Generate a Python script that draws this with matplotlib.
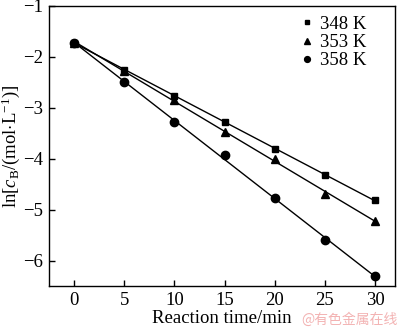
import numpy as np
import matplotlib
matplotlib.use("Agg")
import matplotlib.pyplot as plt

plt.rcParams['font.family'] = ['Liberation Serif', 'DejaVu Serif']
plt.rcParams['mathtext.fontset'] = 'custom'
plt.rcParams['mathtext.rm'] = 'Liberation Serif'
plt.rcParams['mathtext.it'] = 'Liberation Serif:italic'

time_min = [0, 5, 10, 15, 20, 25, 30]
ln_c_348 = [-1.72, -2.25, -2.76, -3.28, -3.80, -4.31, -4.82]
ln_c_353 = [-1.72, -2.28, -2.84, -3.48, -4.00, -4.69, -5.22]
ln_c_358 = [-1.72, -2.50, -3.28, -3.92, -4.78, -5.59, -6.31]
labels = ['348 K', '353 K', '358 K']
markers = ['s', '^', 'o']

fig = plt.figure(figsize=(4.0, 3.29), dpi=100)
ax = fig.add_axes([49/400, 1 - 286/329, (395-49)/400, (286-6)/329])

t = np.array(time_min)
for y, lab, m in zip([ln_c_348, ln_c_353, ln_c_358], labels, markers):
    ms = 5 if m == 's' else 6
    ax.plot(t, y, linestyle='none', marker=m, color='black', markersize=ms, label=lab)
    # straight-line fit through each temperature series
    k, b = np.polyfit(t, y, 1)
    ax.plot(t, k*t + b, color='black', linewidth=1)

ax.set_xlim(-2.5, 32)
ax.set_ylim(-6.5, -1)
ax.set_xticks([0, 5, 10, 15, 20, 25, 30])
ax.set_yticks([-6, -5, -4, -3, -2, -1])
ax.set_yticklabels(['\u22126', '\u22125', '\u22124', '\u22123', '\u22122', '\u22121'])
ax.tick_params(direction='in', length=4, width=1, labelsize=13.5, top=False, right=False, pad=4)
for s in ax.spines.values():
    s.set_linewidth(1)

ax.set_xlabel('Reaction time/min', fontsize=13.5, labelpad=1)
ax.set_ylabel(r'ln[$c_{\rm B}$/(mol$\cdot$L$^{-1}$)]', fontsize=13.5, labelpad=1)

leg = ax.legend(loc='upper right', frameon=False, fontsize=13.5, handlelength=0.5,
                handletextpad=0.4, labelspacing=0.05, markerscale=0.7,
                bbox_to_anchor=(0.965, 1.025))

fig.text(0.995, 0.005, '@有色金属在线', fontsize=10, color='#f0a0a0', ha='right', va='bottom',
         family=['Noto Sans CJK SC', 'DejaVu Sans'], alpha=0.8)

fig.savefig('out.png', dpi=100)
